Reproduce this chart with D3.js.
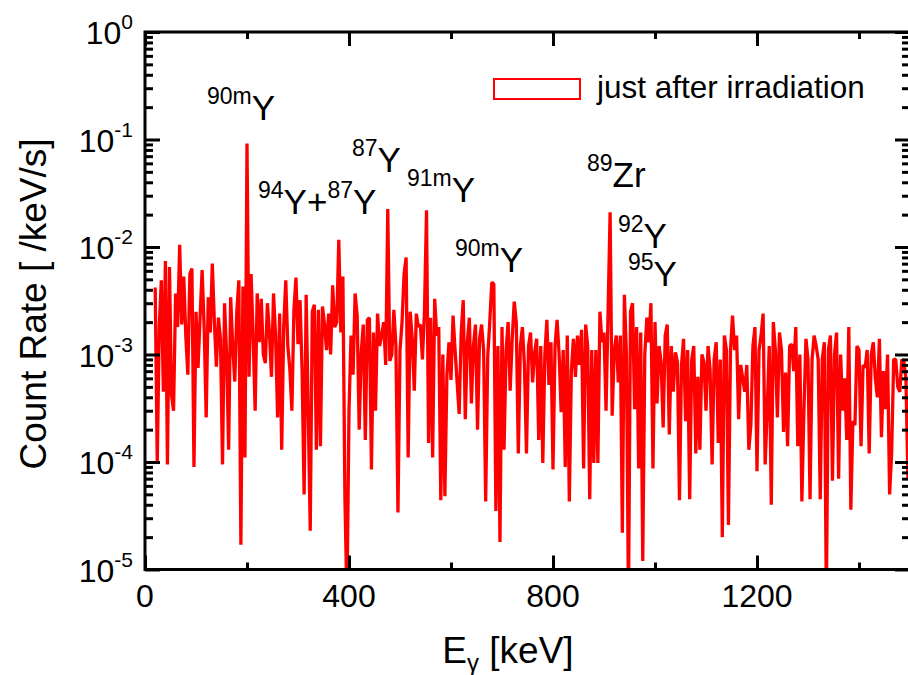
<!DOCTYPE html>
<html>
<head>
<meta charset="utf-8">
<script src="https://cdn.jsdelivr.net/npm/d3@7"></script>
<style>
    body { margin: 0; background: #fff; }
    svg text { font-family: "Liberation Sans", Arial, sans-serif; fill: #000; }
</style>
</head>
<body>
<svg id="chart" width="908" height="675"></svg>
<script>
// gamma spectrum, one value per 4 keV channel starting at 20 keV
const energyStart = 20;
const energyStep = 4;
const countRate = [
    4.2e-3, 1.0e-4, 1.8e-3, 4.9e-3, 4.5e-4, 7.4e-3, 9.5e-5, 6.5e-3, 4.2e-4, 3.0e-4,
    3.7e-3, 1.8e-3, 1.05e-2, 1.9e-3, 5.3e-3, 1.5e-3, 6.5e-4, 5.6e-3, 6.3e-3, 9.0e-5,
    2.5e-3, 7.5e-4, 2.2e-3, 6.1e-3, 1.8e-3, 2.6e-4, 3.4e-3, 1.6e-3, 7.0e-3, 2.0e-3,
    7.7e-4, 2.2e-3, 1.4e-3, 9.5e-5, 3.0e-3, 1.0e-3, 1.3e-4, 3.4e-3, 1.2e-3, 5.6e-4,
    2.5e-3, 4.9e-3, 1.7e-5, 4.3e-3, 1.1e-4, 9.2e-2, 6.2e-4, 5.6e-3, 1.5e-3, 3.0e-4,
    3.7e-3, 1.3e-3, 3.3e-3, 1.0e-3, 8.3e-4, 3.0e-3, 1.6e-3, 6.2e-4, 3.7e-3, 1.5e-3,
    2.6e-4, 2.4e-3, 1.3e-4, 1.8e-3, 4.9e-3, 1.2e-3, 7.3e-4, 3.0e-4, 2.6e-3, 5.2e-3,
    1.25e-3, 3.2e-3, 7.2e-4, 5.0e-5, 3.6e-3, 3.0e-4, 2.3e-5, 2.5e-3, 2.9e-3, 1.3e-4,
    2.6e-3, 1.4e-4, 2.8e-3, 1.9e-3, 1.1e-3, 2.4e-3, 1.0e-3, 4.4e-3, 1.8e-3, 2.0e-3,
    1.17e-2, 1.6e-3, 5.3e-3, 4.7e-5, 5e-6, 3.0e-4, 1.5e-3, 6.5e-4, 3.7e-3, 2.3e-3,
    2.0e-4, 1.05e-3, 1.9e-3, 1.6e-4, 2.1e-3, 2.2e-3, 8.5e-5, 1.6e-3, 3.0e-4, 2.4e-3,
    1.2e-3, 1.5e-3, 2.0e-3, 8.0e-4, 2.25e-2, 8.7e-4, 1.0e-3, 2.6e-3, 1.2e-3, 3.4e-5,
    // 500 keV
    1.1e-3, 2.0e-3, 5.6e-3, 8.0e-3, 1.1e-4, 2.5e-3, 1.4e-3, 4.6e-4, 2.4e-3, 1.8e-3,
    1.9e-3, 9.0e-4, 2.5e-3, 2.2e-2, 1.5e-4, 2.2e-3, 1.1e-4, 3.3e-3, 1.5e-3, 1.8e-3,
    4.4e-5, 1.0e-3, 4.8e-5, 6.5e-4, 1.3e-3, 5.8e-4, 2.3e-3, 1.1e-3, 5.5e-4, 2.8e-4,
    1.6e-3, 3.2e-3, 2.5e-4, 1.3e-3, 2.2e-3, 3.5e-4, 1.2e-3, 1.9e-3, 2.0e-4, 1.4e-3,
    1.9e-3, 1.1e-3, 4.3e-5, 9.5e-4, 2.0e-3, 4.7e-3, 4.5e-3, 3.5e-5, 1.2e-3, 1.8e-5,
    1.8e-3, 1.3e-4, 1.1e-3, 2.0e-3, 4.6e-4, 1.4e-3, 3.1e-3, 2.0e-3, 1.2e-4, 1.2e-3,
    1.8e-3, 8.0e-4, 1.2e-4, 1.2e-3, 1.6e-3, 5.5e-4, 1.05e-3, 1.4e-3, 1.6e-4, 1.2e-3,
    9.8e-5, 1.0e-3, 2.1e-3, 5.2e-4, 1.3e-3, 8.5e-5, 1.2e-3, 2.1e-3, 1.0e-3, 2.9e-4,
    1.1e-3, 9.0e-5, 1.5e-3, 4.3e-5, 7.0e-4, 1.4e-3, 6.2e-4, 1.5e-3, 8.0e-4, 1.7e-3,
    8.7e-5, 1.9e-3, 1.2e-3, 4.5e-5, 1.1e-3, 9.8e-5, 1.1e-3, 9.8e-5, 2.5e-3, 1.3e-3,
    1.6e-3, 3.0e-4, 2.5e-3, 2.1e-2, 2.7e-4, 1.05e-3, 1.5e-3, 5.5e-4, 1.5e-3, 2.2e-5,
    3.6e-3, 1.0e-3, 5e-6, 2.5e-3, 3.0e-3, 3.1e-4, 1.8e-3, 8.7e-5, 1.6e-3, 1.2e-5,
    1.0e-3, 2.2e-3, 1.3e-3,
    // 992 keV
    3.0e-3, 8.7e-5, 2.0e-3, 3.5e-4, 1.2e-3, 8.5e-4, 2.1e-4, 1.5e-3, 1.9e-3, 1.8e-4,
    1.2e-3, 4.5e-4, 1.05e-3, 8.5e-4, 4.4e-5, 8.0e-4, 1.4e-3, 2.4e-4, 1.1e-3, 4.5e-5,
    9.0e-4, 1.2e-3, 1.2e-4, 6.2e-4, 1.3e-4, 1.0e-3, 8.5e-4, 3.0e-4, 1.2e-3, 7.2e-4,
    9.5e-5, 9.0e-4, 1.3e-3, 1.5e-4, 9.0e-4, 2.0e-5, 1.5e-3, 1.1e-3, 2.6e-5, 1.1e-3,
    2.3e-3, 1.1e-3, 1.5e-3, 2.5e-4, 8.0e-4, 6.0e-4, 4.5e-4, 8.0e-4, 1.3e-4, 2.2e-4,
    1.2e-3, 1.8e-3, 8.2e-5, 1.1e-3, 1.5e-3, 2.4e-3, 9.5e-5, 3.0e-4, 1.2e-3, 4.0e-5,
    2.0e-3, 1.1e-3, 2.6e-4, 1.6e-3, 1.1e-3, 1.9e-4, 6.8e-4, 1.4e-4, 1.2e-3, 1.25e-3,
    7.0e-4, 1.8e-3, 1.4e-4, 1.0e-3, 4.3e-5, 3.0e-4, 1.4e-3, 9.0e-4, 4.5e-5, 9.0e-4,
    1.5e-3, 1.2e-3, 9.0e-4, 4.5e-5, 9.0e-4, 1.3e-3, 5e-6, 1.1e-3, 1.5e-3, 6.7e-5,
    1.0e-3, 1.6e-3, 7.0e-5, 1.0e-3, 3.0e-4, 6.0e-4, 1.6e-4, 1.8e-3, 3.6e-5, 2.4e-4,
    2.2e-4, 1.2e-3, 1.1e-3, 1.4e-4, 8.0e-4, 7.5e-4, 1.1e-3, 1.2e-4, 1.0e-3, 1.3e-3,
    6.0e-4, 4.0e-4, 1.4e-3, 1.7e-4, 7.0e-4, 3.1e-4, 1.0e-3, 5.0e-5, 1.2e-4, 9.0e-4,
    9.0e-4, 5.0e-4, 4.5e-4, 9.0e-4, 8.5e-4, 6.0e-4, 7.0e-5
];

const xMajorTicks = [0, 400, 800, 1200];
const xMinorTicks = [200, 600, 1000, 1400];
const yExponents = [0, -1, -2, -3, -4, -5];
const legendLabel = 'just after irradiation';

// isotope labels: even entries are superscripts
const peakLabels = [
    ['90m', 'Y'],
    ['94', 'Y+', '87', 'Y'],
    ['87', 'Y'],
    ['91m', 'Y'],
    ['90m', 'Y'],
    ['89', 'Zr'],
    ['92', 'Y'],
    ['95', 'Y']
];
// left edge / baseline of each label, in pixels
const peakLabelPos = [[207, 120], [258, 214], [352, 172], [407, 202], [455, 272], [587, 187], [618, 248], [628, 286]];

const margins = {top: 32, right: -2, bottom: 105.5, left: 145};
const width = 908;
const height = 675;
const red = '#ff0000';

const svg = d3.select('#chart');

const x = d3.scaleLinear()
    .domain([0, 1500])
    .range([margins.left, width - margins.right]);
const y = d3.scaleLog()
    .domain([1e-5, 1])
    .range([height - margins.bottom, margins.top]);

const points = countRate.map((v, i) => ({e: energyStart + i * energyStep, v: v}));

svg.append('clipPath')
    .attr('id', 'plot-clip')
    .append('rect')
    .attr('x', x(0))
    .attr('y', y(1))
    .attr('width', x(1500) - x(0))
    .attr('height', y(1e-5) - y(1));

svg.append('path')
    .datum(points)
    .attr('clip-path', 'url(#plot-clip)')
    .attr('fill', 'none')
    .attr('stroke', red)
    .attr('stroke-width', 3.3)
    .attr('stroke-linejoin', 'bevel')
    .attr('d', d3.line().x(d => x(d.e)).y(d => y(d.v)));

// ticks all point inwards, labels are drawn separately
const tickStyle = g => {
    g.select('.domain').remove();
    g.selectAll('.tick line').attr('stroke', '#000').attr('stroke-width', 3);
    g.selectAll('.tick text').remove();
};

const yMinor = [];
yExponents.slice(1).forEach(e => {
    for (let k = 2; k <= 9; k++) yMinor.push(k * Math.pow(10, e));
});
const yMajor = yExponents.map(e => Math.pow(10, e));

const y0 = y(1e-5), y1 = y(1), x0 = x(0), x1 = x(1500);

svg.append('g').attr('transform', `translate(0,${y0})`)
    .call(d3.axisBottom(x).tickValues(xMajorTicks).tickSize(-14)).call(tickStyle);
svg.append('g').attr('transform', `translate(0,${y0})`)
    .call(d3.axisBottom(x).tickValues(xMinorTicks).tickSize(-7)).call(tickStyle);
svg.append('g').attr('transform', `translate(0,${y1})`)
    .call(d3.axisTop(x).tickValues(xMajorTicks).tickSize(-14)).call(tickStyle);
svg.append('g').attr('transform', `translate(0,${y1})`)
    .call(d3.axisTop(x).tickValues(xMinorTicks).tickSize(-7)).call(tickStyle);

svg.append('g').attr('transform', `translate(${x0},0)`)
    .call(d3.axisLeft(y).tickValues(yMajor).tickSize(-15)).call(tickStyle);
svg.append('g').attr('transform', `translate(${x0},0)`)
    .call(d3.axisLeft(y).tickValues(yMinor).tickSize(-8)).call(tickStyle);
svg.append('g').attr('transform', `translate(${x1},0)`)
    .call(d3.axisRight(y).tickValues(yMajor).tickSize(-15)).call(tickStyle);
svg.append('g').attr('transform', `translate(${x1},0)`)
    .call(d3.axisRight(y).tickValues(yMinor).tickSize(-8)).call(tickStyle);

svg.append('rect')
    .attr('x', x0)
    .attr('y', y1)
    .attr('width', x1 - x0)
    .attr('height', y0 - y1)
    .attr('fill', 'none')
    .attr('stroke', '#000')
    .attr('stroke-width', 3);

// tick labels
svg.append('g').selectAll('text')
    .data(xMajorTicks)
    .enter()
    .append('text')
    .attr('x', d => x(d))
    .attr('y', y0 + 37)
    .attr('text-anchor', 'middle')
    .style('font-size', '32px')
    .text(d => d);

const yLabels = svg.append('g').selectAll('text')
    .data(yExponents)
    .enter()
    .append('text')
    .attr('x', x0 - 12)
    .attr('y', d => y(Math.pow(10, d)) + 12)
    .attr('text-anchor', 'end');
yLabels.append('tspan').style('font-size', '32px').text('10');
yLabels.append('tspan').style('font-size', '21px').attr('dy', -15).text(d => d);

// axis titles
svg.append('text')
    .attr('transform', 'translate(46,304) rotate(-90)')
    .attr('text-anchor', 'middle')
    .style('font-size', '37px')
    .text('Count Rate [ /keV/s]');

const xTitle = svg.append('text')
    .attr('x', 508)
    .attr('y', 663)
    .attr('text-anchor', 'middle')
    .style('font-size', '37px');
xTitle.append('tspan').text('E');
xTitle.append('tspan').style('font-size', '24px').attr('dy', 8).text('γ');
xTitle.append('tspan').attr('dy', -8).text(' [keV]');

// isotope labels
peakLabels.forEach((parts, i) => {
    const t = svg.append('text')
        .attr('x', peakLabelPos[i][0])
        .attr('y', peakLabelPos[i][1]);
    parts.forEach((s, j) => {
        const sup = j % 2 === 0;
        t.append('tspan')
            .style('font-size', sup ? '23px' : '35px')
            .attr('dy', sup ? -16 : 16)
            .text(s);
    });
});

// legend
svg.append('rect')
    .attr('x', 494)
    .attr('y', 79)
    .attr('width', 86)
    .attr('height', 20)
    .attr('fill', 'none')
    .attr('stroke', red)
    .attr('stroke-width', 2);
svg.append('text')
    .attr('x', 597)
    .attr('y', 98)
    .style('font-size', '31.5px')
    .text(legendLabel);
</script>
</body>
</html>
